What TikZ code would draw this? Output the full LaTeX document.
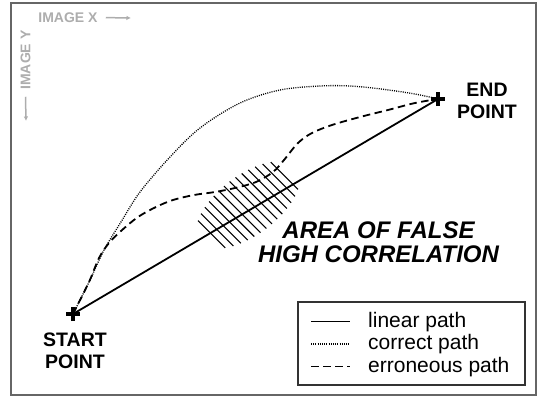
\documentclass[tikz,border=0pt]{standalone}
\usepackage{fontspec}
\setmainfont{Liberation Sans}
\setsansfont{Liberation Sans}
\usetikzlibrary{arrows.meta}

\begin{document}
\begin{tikzpicture}[
    x=1pt, y=-1pt,
    every node/.style={font=\sffamily, inner sep=0pt},
    frame/.style={draw=black!60, line width=1.4pt},
    axis label/.style={text=black!32, font=\sffamily\bfseries\fontsize{14}{16}\selectfont},
    axis arrow/.style={-{Latex[length=4.5pt,width=4.5pt]}, draw=black!32, line width=1.5pt},
    point label/.style={align=center, font=\sffamily\bfseries\fontsize{19.5}{21.5}\selectfont},
    area label/.style={align=center, font=\sffamily\bfseries\itshape\fontsize{24}{24.5}\selectfont},
    cross/.style={line width=3.2pt},
    linear/.style={line width=1.8pt},
    correct/.style={line width=1.3pt, dash pattern=on 1pt off 1.2pt},
    erroneous/.style={line width=1.8pt, dash pattern=on 7.5pt off 4.5pt},
    hatch/.style={line width=1.1pt},
    legend box/.style={draw=black!80, line width=1.2pt, minimum width=227pt, minimum height=83pt},
    legend text/.style={anchor=base west, font=\sffamily\fontsize{21}{24}\selectfont}
  ]
    \useasboundingbox (0,0) rectangle (542,399);
    \draw[frame] (11,3) rectangle (536,395);

    % image axes in the corner
    \node[axis label] (imgX) at (68,17.6) {IMAGE X};
    \node[axis label, rotate=90] (imgY) at (25.5,60) {IMAGE Y};
    \coordinate (xTip) at (131,18);
    \coordinate (yTip) at (26,121);
    \draw[axis arrow] ([xshift=8pt]imgX.east) -- (xTip);
    \draw[axis arrow] ([yshift=-7pt]imgY.west) -- (yTip);

    \coordinate (start) at (73,314);
    \coordinate (end) at (438,99);
    \coordinate (hatchC) at (248,205);

    % hatched area where the paths run close together
    \foreach \i in {-6.5,-5.5,...,6.5}{
      \pgfmathsetmacro\hl{21.2*sqrt(1-(\i/8.5)^2)}
      \draw[hatch, shift={(hatchC)}] ({(\i)*5.6-\hl},{-(\i)*4.5-\hl}) -- ++({2*\hl},{2*\hl});
    }

    \draw[linear] (start) -- (end);
    \draw[correct] plot[smooth, tension=0.55] coordinates {(start) (90,280) (104,250) (121,222) (140,192)
      (170,157) (200,128) (240,103) (280,90) (320,86) (350,86) (381,89) (415,94) (end)};
    \draw[erroneous] plot[smooth, tension=0.55] coordinates {(start) (89,282) (99,258) (109,243)
      (121,231) (138,217) (156,207) (173,200) (194,195) (215,192) (235,188) (256,182) (273,172)
      (284,160) (298,143) (312,133) (332,125) (360,117) (388,110) (415,103) (end)};

    \draw[cross] ([xshift=-7pt]start) -- ([xshift=7pt]start);
    \draw[cross] ([yshift=-7pt]start) -- ([yshift=7pt]start);
    \draw[cross] ([xshift=-7pt]end) -- ([xshift=7pt]end);
    \draw[cross] ([yshift=-7pt]end) -- ([yshift=7pt]end);

    \node[point label] (startLbl) at (75,350.7) {START\\POINT};
    \node[point label] (endLbl) at (487,101) {END\\POINT};
    \node[area label] (areaLbl) at (378.5,242.2) {AREA OF FALSE\\HIGH CORRELATION};

    % legend
    \node[legend box] (legend) at (411.5,343.5) {};
    \node[legend text] (linTxt) at (368,327) {linear path};
    \node[legend text] (corTxt) at (368,349.5) {correct path};
    \node[legend text] (errTxt) at (368,372) {erroneous path};
    \draw[linear] ([xshift=-57pt,yshift=5.5pt]linTxt.base west) -- ++(39,0);
    \draw[correct] ([xshift=-57pt,yshift=5.5pt]corTxt.base west) -- ++(39,0);
    \draw[erroneous] ([xshift=-57pt,yshift=5.5pt]errTxt.base west) -- ++(39,0);
\end{tikzpicture}
\end{document}
